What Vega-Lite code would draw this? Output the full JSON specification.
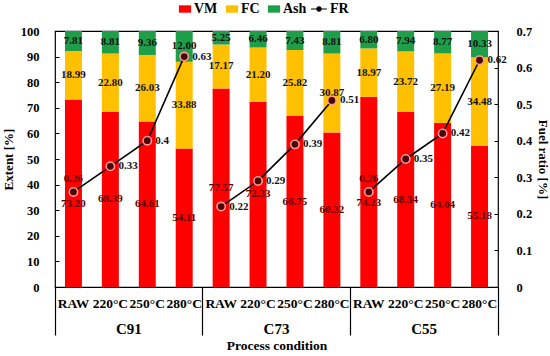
{
  "$schema": "https://vega.github.io/schema/vega-lite/v6.json",
  "width": 443,
  "height": 256,
  "autosize": {"type": "none"},
  "padding": {"left": 55, "top": 31, "right": 52, "bottom": 69},
  "background": "white",
  "config": {
    "font": "Liberation Serif",
    "view": {"stroke": "black", "strokeWidth": 1.2},
    "axis": {
      "labelFont": "Liberation Serif", "titleFont": "Liberation Serif",
      "labelFontWeight": "bold", "titleFontWeight": "bold",
      "labelColor": "black", "titleColor": "black",
      "labelFontSize": 12.5, "titleFontSize": 13,
      "domainColor": "black", "tickColor": "black", "grid": false
    },
    "legend": {
      "labelFont": "Liberation Serif", "labelFontWeight": "bold", "labelFontSize": 14, "labelColor": "black"
    }
  },
  "data": {
    "values": [
      {"group": "C91", "bar": "C91 RAW", "VM": 73.20, "FC": 18.99, "Ash": 7.81, "FR": 0.26},
      {"group": "C91", "bar": "C91 220°C", "VM": 68.39, "FC": 22.80, "Ash": 8.81, "FR": 0.33},
      {"group": "C91", "bar": "C91 250°C", "VM": 64.61, "FC": 26.03, "Ash": 9.36, "FR": 0.4},
      {"group": "C91", "bar": "C91 280°C", "VM": 54.11, "FC": 33.88, "Ash": 12.00, "FR": 0.63},
      {"group": "C73", "bar": "C73 RAW", "VM": 77.57, "FC": 17.17, "Ash": 5.25, "FR": 0.22},
      {"group": "C73", "bar": "C73 220°C", "VM": 72.33, "FC": 21.20, "Ash": 6.46, "FR": 0.29},
      {"group": "C73", "bar": "C73 250°C", "VM": 66.75, "FC": 25.82, "Ash": 7.43, "FR": 0.39},
      {"group": "C73", "bar": "C73 280°C", "VM": 60.32, "FC": 30.87, "Ash": 8.81, "FR": 0.51},
      {"group": "C55", "bar": "C55 RAW", "VM": 74.23, "FC": 18.97, "Ash": 6.80, "FR": 0.26},
      {"group": "C55", "bar": "C55 220°C", "VM": 68.34, "FC": 23.72, "Ash": 7.94, "FR": 0.35},
      {"group": "C55", "bar": "C55 250°C", "VM": 64.04, "FC": 27.19, "Ash": 8.77, "FR": 0.42},
      {"group": "C55", "bar": "C55 280°C", "VM": 55.18, "FC": 34.48, "Ash": 10.33, "FR": 0.62}
    ]
  },
  "layer": [
    {
      "layer": [
        {
          "transform": [
            {"fold": ["VM", "FC", "Ash"], "as": ["comp", "value"]},
            {"calculate": "indexof(['VM','FC','Ash'], datum.comp)", "as": "ord"},
            {"stack": "value", "groupby": ["bar"], "sort": [{"field": "ord", "order": "ascending"}], "as": ["y0", "y1"]},
            {"calculate": "(datum.y0 + datum.y1) / 2", "as": "mid"},
            {"calculate": "datum.comp === 'VM' && abs(datum.mid - datum.FR * 100 / 0.7) < 4", "as": "near"}
          ],
          "encoding": {
            "x": {
              "field": "bar", "type": "nominal", "sort": null,
              "scale": {"paddingInner": 0.54, "paddingOuter": 0.27},
              "axis": {
                "title": null, "labelAngle": 0, "ticks": false, "domain": false,
                "labelPadding": 9, "labelOverlap": false, "labelFontSize": 13.5,
                "labelExpr": "split(datum.label, ' ')[1]"
              }
            }
          },
          "layer": [
            {
              "mark": {"type": "bar"},
              "encoding": {
                "y": {
                  "field": "y0", "type": "quantitative",
                  "scale": {"domain": [0, 100], "nice": false},
                  "axis": {
                    "title": "Extent [%]", "values": [0, 10, 20, 30, 40, 50, 60, 70, 80, 90, 100], "tickCount": 20,
                    "labelOverlap": false, "domain": false, "tickSize": -4, "labelPadding": 20, "titlePadding": 5
                  }
                },
                "y2": {"field": "y1"},
                "color": {
                  "field": "comp", "type": "nominal",
                  "scale": {"domain": ["VM", "FC", "Ash"], "range": ["#ff0000", "#ffc000", "#1f9e4a"]},
                  "legend": {
                    "title": null, "orient": "none", "direction": "horizontal",
                    "legendX": 123, "legendY": -29,
                    "symbolType": "M-1,-0.6H1V0.6H-1Z", "symbolSize": 150, "symbolOpacity": 1,
                    "columnPadding": 7, "labelOffset": 2
                  }
                }
              }
            },
            {
              "transform": [{"filter": "!datum.near"}],
              "mark": {"type": "text", "font": "Liberation Serif", "fontWeight": "bold", "fontSize": 11},
              "encoding": {
                "y": {
                  "field": "mid", "type": "quantitative",
                  "axis": {
                    "title": "Extent [%]", "values": [0, 10, 20, 30, 40, 50, 60, 70, 80, 90, 100], "tickCount": 20,
                    "labelOverlap": false, "domain": false, "tickSize": -4, "labelPadding": 20, "titlePadding": 5
                  }
                },
                "text": {"field": "value", "type": "quantitative", "format": ".2f"},
                "color": {"condition": {"test": "datum.comp === 'VM'", "value": "#5c0000"}, "value": "#111111"}
              }
            },
            {
              "transform": [{"filter": "datum.near"}],
              "mark": {"type": "text", "dy": 11, "font": "Liberation Serif", "fontWeight": "bold", "fontSize": 11, "color": "#5c0000"},
              "encoding": {
                "y": {
                  "field": "mid", "type": "quantitative",
                  "axis": {
                    "title": "Extent [%]", "values": [0, 10, 20, 30, 40, 50, 60, 70, 80, 90, 100], "tickCount": 20,
                    "labelOverlap": false, "domain": false, "tickSize": -4, "labelPadding": 20, "titlePadding": 5
                  }
                },
                "text": {"field": "value", "type": "quantitative", "format": ".2f"}
              }
            }
          ]
        },
        {
          "transform": [
            {"calculate": "abs(datum.VM / 2 - datum.FR * 100 / 0.7) < 4", "as": "near"}
          ],
          "encoding": {
            "x": {"field": "bar", "type": "nominal", "sort": null},
            "y": {
              "field": "FR", "type": "quantitative",
              "scale": {"domain": [0, 0.7], "nice": false},
              "axis": {
                "orient": "right", "title": "Fuel ratio [%]",
                "values": [0, 0.1, 0.2, 0.3, 0.4, 0.5, 0.6, 0.7], "tickCount": 20, "format": ".1~f",
                "labelOverlap": false, "domain": false, "tickSize": -4, "labelPadding": 22, "titlePadding": 4
              }
            }
          },
          "layer": [
            {
              "mark": {"type": "line", "strokeWidth": 1.6, "color": "black"},
              "encoding": {"detail": {"field": "group"}}
            },
            {
              "mark": {"type": "point", "shape": "circle", "filled": true, "size": 70, "fill": "#4a0505", "stroke": "#ff9a9a", "strokeWidth": 1.6, "opacity": 1}
            },
            {
              "mark": {"type": "point", "filled": true, "opacity": 0, "color": "black"},
              "encoding": {
                "shape": {
                  "datum": "FR",
                  "scale": {"range": ["M-1.3,-0.1H1.3V0.1H-1.3Z M-0.45,0A0.45,0.45,0,1,1,0.45,0A0.45,0.45,0,1,1,-0.45,0Z"]},
                  "legend": {
                    "title": null, "orient": "none", "direction": "horizontal",
                    "legendX": 257, "legendY": -29,
                    "symbolSize": 150, "symbolOpacity": 1, "symbolFillColor": "black",
                    "labelOffset": 4
                  }
                }
              }
            },
            {
              "transform": [{"filter": "!datum.near"}],
              "mark": {"type": "text", "align": "left", "dx": 8, "font": "Liberation Serif", "fontWeight": "bold", "fontSize": 11, "color": "#111111"},
              "encoding": {"text": {"field": "FR", "type": "quantitative"}}
            },
            {
              "transform": [{"filter": "datum.near"}],
              "mark": {"type": "text", "align": "center", "dy": -13, "font": "Liberation Serif", "fontWeight": "bold", "fontSize": 11, "color": "#5c0000"},
              "encoding": {"text": {"field": "FR", "type": "quantitative"}}
            }
          ]
        }
      ],
      "resolve": {"scale": {"y": "independent"}, "axis": {"y": "independent"}}
    },
    {
      "mark": {"type": "tick", "opacity": 0},
      "encoding": {
        "x": {
          "field": "group", "type": "nominal", "sort": null,
          "scale": {"paddingInner": 0, "paddingOuter": 0},
          "axis": {
            "orient": "bottom", "labelAngle": 0, "domain": false,
            "ticks": true, "tickSize": 48, "tickWidth": 1.2, "bandPosition": 1, "tickExtra": true,
            "labelPadding": -14, "labelFontSize": 15,
            "title": "Process condition", "titlePadding": 2, "titleFontSize": 13.5
          }
        }
      }
    }
  ],
  "resolve": {"scale": {"x": "independent"}, "axis": {"x": "independent"}}
}
